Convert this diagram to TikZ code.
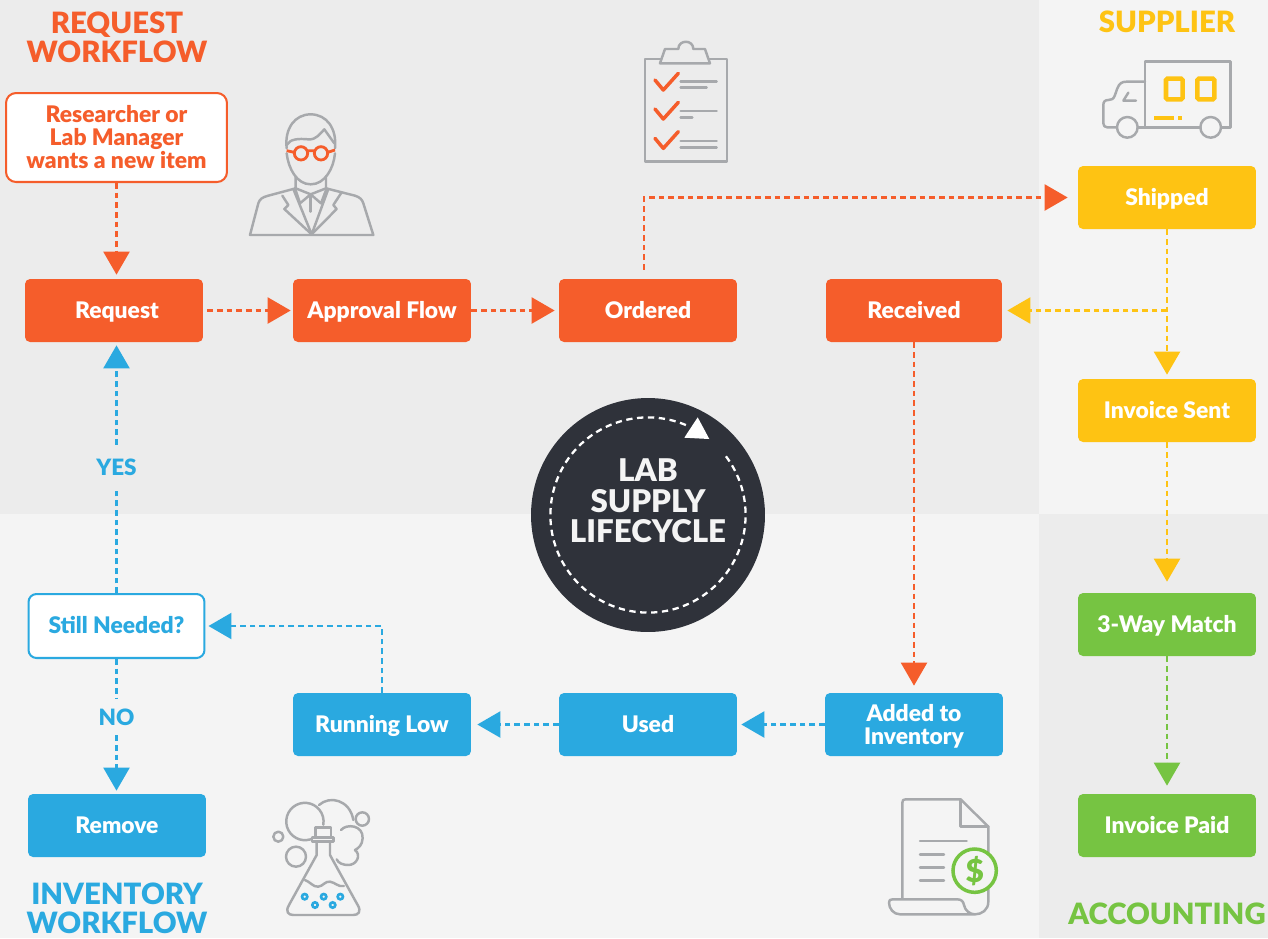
\documentclass[tikz,border=0pt]{standalone}
\usepackage{fontspec}
\setmainfont{Lato}[BoldFont={Lato Black}]
\usetikzlibrary{arrows.meta,calc}
\definecolor{orangeC}{HTML}{F55D2B}
\definecolor{yellowC}{HTML}{FEC313}
\definecolor{greenC}{HTML}{76C442}
\definecolor{blueC}{HTML}{2AA9E0}
\definecolor{darkC}{HTML}{2F323A}
\definecolor{bgA}{HTML}{ECECEC}
\definecolor{bgB}{HTML}{F4F4F4}
\definecolor{iconC}{HTML}{A7A9AC}
\tikzset{
 x=.02cm,y=-.02cm,
 boxtxt/.style={font=\fontsize{13}{13.1}\selectfont\bfseries,align=center,text=white},
 fbox/.style={boxtxt,rounded corners=.1cm,minimum width=3.56cm,minimum height=1.26cm,inner sep=0pt},
 one/.style={text height=9pt,text depth=0pt},
 obox/.style={fbox,fill=orangeC},
 ybox/.style={fbox,fill=yellowC},
 gbox/.style={fbox,fill=greenC},
 bbox/.style={fbox,fill=blueC},
 conn/.style={line width=1.3pt,dash pattern=on 3.2pt off 2.3pt,-{Triangle[length=.46cm,width=.52cm]}},
 conB/.style={line width=1.3pt,dash pattern=on 3.2pt off 2.3pt},
 head/.style={font=\fontsize{16.7}{16.8}\selectfont\bfseries,align=center,inner sep=0pt,text depth=0pt},
 lbl/.style={font=\fontsize{12.8}{13}\selectfont\bfseries,text=blueC,inner sep=0pt},
 ic/.style={draw=iconC,line width=1.4pt,line cap=round,line join=round},
 zoomed/.style={x=.02cm/3,y=-.02cm/3},
}
\begin{document}
\begin{tikzpicture}
\useasboundingbox (0,0) rectangle (1268,938);
\fill[bgA] (0,0) rectangle (1039,514);
\fill[bgB] (1039,0) rectangle (1268,514);
\fill[bgB] (0,514) rectangle (1039,938);
\fill[bgA] (1039,514) rectangle (1268,938);

% Headings
\node[head,text=orangeC] (hreq) at (117,37) {REQUEST\\WORKFLOW};
\node[head,text=yellowC] (hsup) at (1167,22) {SUPPLIER};
\node[head,text=blueC] (hinv) at (117,908) {INVENTORY\\WORKFLOW};
\node[head,text=greenC] (hacc) at (1167,914) {ACCOUNTING};

% Boxes
\node[boxtxt,draw=orangeC,fill=white,text=orangeC,line width=1.15pt,rounded corners=.2cm,minimum width=4.42cm,minimum height=1.78cm,inner sep=0pt] (res) at (116.5,137.5) {Researcher or\\Lab Manager\\wants a new item};
\node[obox,one] (req) at (114,310.5) {\hspace*{.12cm}Request};
\node[obox,one] (app) at (382,310.5) {Approval Flow};
\node[obox,one] (ord) at (648,310.5) {Ordered};
\node[obox,one,minimum width=3.52cm] (rec) at (914,310.5) {Received};
\node[ybox,one] (shi) at (1167,197.5) {Shipped};
\node[ybox,one] (inv) at (1167,410.5) {Invoice Sent};
\node[gbox,one] (mat) at (1167,624.5) {3-Way Match};
\node[gbox,one] (pai) at (1167,825.5) {Invoice Paid};
\node[bbox,text depth=0pt] (add) at (914,724.5) {Added to\\Inventory};
\node[bbox,one] (use) at (648,724.5) {Used};
\node[bbox,one] (run) at (382,724.5) {Running Low};
\node[bbox,one] (rem) at (117,825.5) {Remove};
\node[boxtxt,one,draw=blueC,fill=white,text=blueC,line width=1.15pt,rounded corners=.16cm,minimum width=3.52cm,minimum height=1.28cm,inner sep=0pt] (sti) at (116.5,626) {Still Needed?};
\node[lbl,minimum height=.88cm] (yes) at (116.5,467) {YES};
\node[lbl,minimum height=.72cm] (no) at (116.5,717) {NO};

% Connectors
\draw[conn,orangeC,shorten >=.08cm] (res.south) -- (res.south |- req.north);
\draw[conn,orangeC,shorten >=.04cm,shorten <=.08cm] (req.east) -- (app.west);
\draw[conn,orangeC,shorten >=.08cm] (app.east) -- (ord.west);
\coordinate (ordtop) at ($(ord.north)+(-4,-9)$);
\draw[conn,orangeC,shorten >=.2cm] (ordtop) -- (ordtop |- shi.west) -- (shi.west);
\draw[conn,yellowC,shorten >=.08cm] (shi.south) -- (shi.south |- inv.north);
\coordinate (branch) at (shi.south |- rec.east);
\draw[conn,yellowC,shorten >=.1cm] (branch) -- (rec.east);
\draw[conn,yellowC,shorten >=.22cm] (inv.south) -- (inv.south |- mat.north);
\draw[conn,greenC,shorten >=.16cm] (mat.south) -- (mat.south |- pai.north);
\draw[conn,orangeC,shorten >=.14cm] (rec.south) -- (rec.south |- add.north);
\draw[conn,blueC,shorten >=.08cm] (add.west) -- (use.east);
\draw[conn,blueC,shorten >=.12cm] (use.west) -- (run.east);
\draw[conn,blueC,shorten >=.06cm] (run.north) |- (sti.east);
\coordinate (yesend) at (sti.north |- req.south);
\draw[conB,blueC] (sti.north) -- (yes.south);
\draw[conn,blueC,shorten >=.06cm] (yes.north) -- (yesend);
\draw[conB,blueC] (sti.south) -- (no.north);
\draw[conn,blueC,shorten >=.06cm] (no.south) -- (no.south |- rem.north);

% Center
\node[circle,fill=darkC,minimum size=4.68cm,inner sep=0pt] (cen) at (648,515) {};
\node[font=\fontsize{17.8}{17.3}\selectfont\bfseries,text=bgB,align=center] (cent) at (648,501) {LAB\\SUPPLY\\LIFECYCLE};
\draw[white,line width=1.3pt,dash pattern=on 3.6pt off 2.6pt] ($(cen)+(-37:97.6)$) arc[start angle=-37,end angle=293,radius=97.6];
\fill[white] (697.7,417.3) -- (709.3,439) -- (684.3,437.7) -- cycle;

% Person
\begin{scope}[shift={(245,105)},zoomed]
\draw[ic] (152,215) -- (152,250) -- (70,272) .. controls (50,277) and (44,283) .. (40,295) -- (15,390) -- (385,390) -- (355,295) .. controls (351,283) and (345,277) .. (330,272) -- (243,250) -- (243,215);
\draw[ic] (125,130) .. controls (118,70) and (150,28) .. (197,28) .. controls (245,28) and (276,70) .. (270,130);
\draw[ic] (125,120) .. controls (135,102) and (160,100) .. (190,103) .. controls (215,105) and (225,85) .. (238,73) -- (268,115);
\draw[ic] (125,145) .. controls (130,190) and (155,238) .. (197,238) .. controls (240,238) and (266,190) .. (270,145);
\draw[ic] (150,250) -- (165,295) -- (197,268) -- (228,295) -- (245,250);
\draw[ic] (152,250) -- (197,268) -- (243,250);
\draw[ic] (197,268) -- (197,320);
\draw[ic] (145,252) -- (200,388) -- (250,252);
\draw[ic] (112,272) -- (130,300) -- (118,312) -- (200,388) -- (275,312) -- (265,300) -- (288,265);
\draw[orangeC,line width=1.6pt] (168,145) circle[radius=20] (228,145) circle[radius=20] (187,137) -- (209,137) (125,137) -- (148,142) (270,135) -- (248,142);
\end{scope}

% Clipboard
\begin{scope}[shift={(230,30)},zoomed]
\draw[ic] (1245,87) rectangle (1491,395);
\draw[ic,fill=bgA] (1290,100) -- (1305,57) -- (1345,57) .. controls (1345,28) and (1390,28) .. (1390,57) -- (1425,57) -- (1440,100) -- cycle;
\foreach \d in {0,87,175}{
 \draw[orangeC,line width=2pt,line cap=round,line join=round] (1275,150+\d) -- (1300,180+\d) -- (1345,130+\d);
}
\draw[ic] (1352,155) -- (1460,155) (1352,172) -- (1430,172) (1352,243) -- (1460,243) (1352,262) -- (1387,262) (1352,333) -- (1460,333) (1352,352) -- (1460,352);
\end{scope}

% Truck
\begin{scope}[shift={(1060,40)},zoomed]
\draw[ic] (485,262) -- (512,262) -- (512,65) -- (255,65) -- (255,262);
\draw[ic] (233,262) -- (422,262);
\draw[ic] (255,125) -- (200,125) .. controls (185,125) and (178,130) .. (172,145) -- (165,165) .. controls (160,178) and (155,180) .. (145,180) .. controls (135,180) and (130,185) .. (130,195) -- (130,250) .. controls (130,258) and (135,262) .. (142,262) -- (170,262);
\draw[ic] (202,262) circle[radius=31] (452,262) circle[radius=31];
\draw[ic] (205,158) -- (190,182) -- (228,182);
\draw[yellowC,line width=2.6pt,rounded corners=.03cm] (318,116) rectangle (368,178) (412,116) rectangle (463,178);
\draw[yellowC,line width=2.2pt] (283,233) -- (342,233) (355,233) -- (365,233);
\end{scope}

% Flask
\begin{scope}[shift={(250,780)},zoomed]
\draw[ic] (200,168) arc[start angle=51,end angle=370,radius=56];
\draw[ic] (207,75) .. controls (240,45) and (300,60) .. (310,120);
\draw[ic] (273,150) .. controls (290,130) and (340,135) .. (338,175) .. controls (337,195) and (325,205) .. (315,210) .. controls (335,225) and (320,255) .. (295,255) .. controls (280,255) and (265,250) .. (260,238);
\draw[ic] (337,117) circle[radius=20] (85,170) circle[radius=15] (138,230) circle[radius=30];
\draw[ic] (200,185) -- (200,225) -- (117,375) .. controls (105,395) and (115,405) .. (130,405) -- (310,405) .. controls (325,405) and (335,395) .. (323,375) -- (240,225) -- (240,185);
\draw[ic,fill=bgB] (197,143) rectangle (243,172);
\draw[ic,fill=bgB] (186,172) rectangle (251,185);
\draw[ic] (165,300) .. controls (180,305) and (190,322) .. (205,320) .. controls (220,318) and (225,303) .. (240,305) .. controls (255,307) and (265,322) .. (282,318);
\draw[blueC,line width=1.5pt] (164,350) circle[radius=8] (221,350) circle[radius=8] (271,350) circle[radius=8] (195,375) circle[radius=8] (248,375) circle[radius=8];
\end{scope}

% Document
\begin{scope}[shift={(870,780)},zoomed]
\draw[ic] (97,355) -- (97,68) .. controls (97,60) and (100,58) .. (107,58) -- (272,58) -- (355,140) -- (355,365) .. controls (355,390) and (335,403) .. (315,403) -- (90,403) .. controls (70,403) and (57,385) .. (57,368) .. controls (57,360) and (60,358) .. (68,358) -- (262,358) .. controls (275,358) and (280,365) .. (282,375) .. controls (285,392) and (300,403) .. (315,403);
\draw[ic] (272,58) -- (272,140) -- (355,140);
\draw[ic] (150,183) -- (290,183) (150,223) -- (222,223) (150,262) -- (222,262) (150,301) -- (222,301);
\draw[greenC,line width=2pt,fill=bgB] (314,272) circle[radius=65];
\node[font=\fontsize{18}{18}\selectfont\bfseries,text=greenC,inner sep=0pt] (dol) at (314,273) {\$};
\end{scope}
\end{tikzpicture}
\end{document}
